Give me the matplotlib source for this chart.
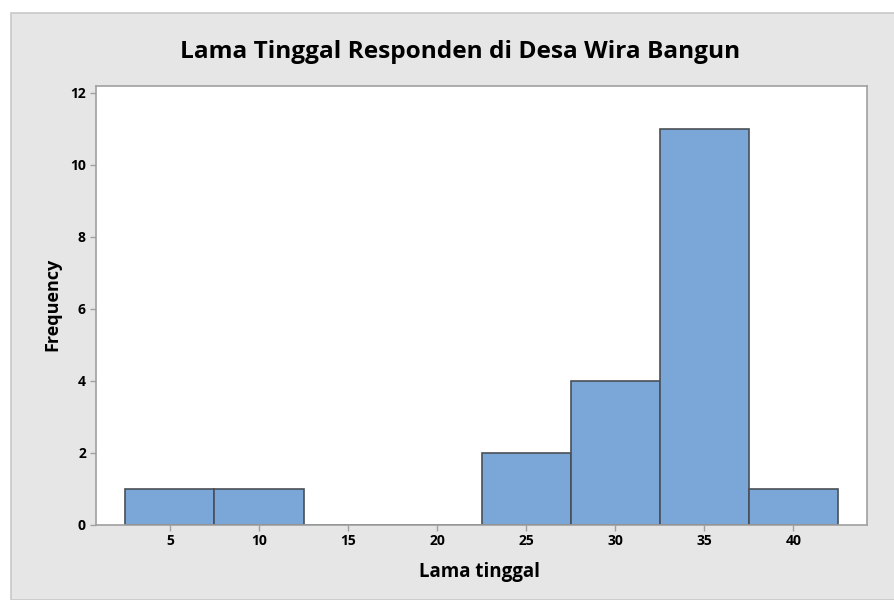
import numpy as np
import matplotlib.pyplot as plt
from matplotlib.patches import Rectangle

# histogram data
bin_centers = [5, 10, 15, 20, 25, 30, 35, 40]
frequency = [1, 1, 0, 0, 2, 4, 11, 1]
bin_width = 5
x_ticks = [5, 10, 15, 20, 25, 30, 35, 40]
y_ticks = [0, 2, 4, 6, 8, 10, 12]

title = 'Lama Tinggal Responden di Desa Wira Bangun'
x_label = 'Lama tinggal'
y_label = 'Frequency'

plt.rcParams['font.family'] = ['Open Sans', 'DejaVu Sans']

W, H = 895, 600
fig = plt.figure(figsize=(W / 100, H / 100), dpi=100)
fig.patch.set_facecolor('white')

# grey panel behind the chart
panel = Rectangle((11 / W, 0), 1 - 11 / W, 1 - 13 / H, transform=fig.transFigure,
                  facecolor='#e6e6e6', edgecolor='#c8c8c8', linewidth=1.2, zorder=-5)
fig.patches.append(panel)

left, right, top, bottom = 95.7, 866.7, 85.7, 524.7
ax = fig.add_axes([left / W, 1 - bottom / H, (right - left) / W, (bottom - top) / H])
ax.set_zorder(2)
ax.set_facecolor('white')

ax.bar(bin_centers, frequency, width=bin_width, color='#7ba7d8',
       edgecolor='#4a4f57', linewidth=1.2, zorder=2)

ax.set_xlim(0.83, 44.12)
ax.set_ylim(0, 12.19)
ax.set_xticks(x_ticks)
ax.set_yticks(y_ticks)

for s in ax.spines.values():
    s.set_color('#a0a0a0')
    s.set_linewidth(1.2)
ax.tick_params(axis='both', direction='out', length=4, width=1, color='#a0a0a0',
               labelsize=10, labelcolor='black', pad=3)
for lab in ax.get_xticklabels() + ax.get_yticklabels():
    lab.set_fontweight('bold')

fig.text(460 / W, 1 - 52 / H, title, ha='center', va='center',
         fontsize=17.6, fontweight='bold', zorder=3)
fig.text(480 / W, 1 - 572 / H, x_label, ha='center', va='center',
         fontsize=13.5, fontweight='bold', zorder=3)
fig.text(52 / W, 1 - 304 / H, y_label, ha='center', va='center', rotation=90,
         fontsize=13, fontweight='bold', zorder=3)

fig.savefig('out.png', dpi=100, facecolor=fig.get_facecolor())
